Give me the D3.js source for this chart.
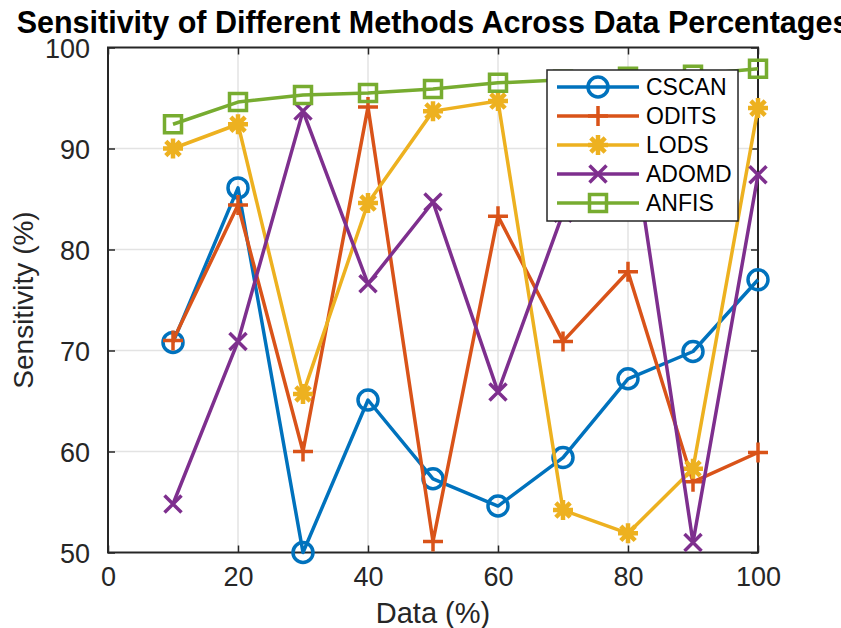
<!DOCTYPE html>
<html>
<head>
<meta charset="utf-8">
<script src="https://cdn.jsdelivr.net/npm/d3@7"></script>
<style>
  body { margin: 0; background: #fff; overflow: hidden; }
  text { font-family: "Liberation Sans", Arial, sans-serif; }
</style>
</head>
<body>
<div id="my_dataviz"></div>
<script>
// data
var dataPct = [10, 20, 30, 40, 50, 60, 70, 80, 90, 100];
var cscan = [70.8, 86.1, 50.0, 65.1, 57.3, 54.6, 59.4, 67.2, 69.9, 77.0];
var odits = [71.0, 84.4, 60.0, 94.1, 51.1, 83.3, 70.9, 77.8, 57.0, 59.9];
var lods  = [90.0, 92.4, 65.7, 84.6, 93.7, 94.7, 54.2, 51.9, 58.3, 94.0];
var adomd = [54.8, 70.9, 93.7, 76.6, 84.7, 65.9, 83.6, 94.0, 51.0, 87.4];
var anfis = [92.4, 94.6, 95.3, 95.5, 95.9, 96.5, 96.8, 97.1, 97.3, 97.9];
var seriesNames = ["CSCAN", "ODITS", "LODS", "ADOMD", "ANFIS"];
var xTicks = [0, 20, 40, 60, 80, 100];
var yTicks = [50, 60, 70, 80, 90, 100];

var seriesValues = [cscan, odits, lods, adomd, anfis];
var colors = ["#0072BD", "#D95319", "#EDB120", "#7E2F8E", "#77AC30"];
var shapes = ["circle", "plus", "asterisk", "x", "square"];

// set the dimensions and margins of the graph
var margin = {top: 47.5, right: 83, bottom: 75.5, left: 108},
    fullW = 841, fullH = 628,
    width = fullW - margin.left - margin.right,
    height = fullH - margin.top - margin.bottom;

var axisColor = "#262626";

var svg = d3.select("#my_dataviz")
  .append("svg")
    .attr("width", fullW)
    .attr("height", fullH)
  .append("g")
    .attr("transform", "translate(" + margin.left + "," + margin.top + ")");

var x = d3.scaleLinear().domain([0, 100]).range([0, width]);
var y = d3.scaleLinear().domain([50, 100]).range([height, 0]);

// grid
svg.append("g")
  .selectAll("line")
  .data(xTicks.slice(1, -1))
  .enter().append("line")
    .attr("x1", function(d) { return x(d); })
    .attr("x2", function(d) { return x(d); })
    .attr("y1", 0).attr("y2", height)
    .attr("stroke", "#e3e3e3").attr("stroke-width", 1.5);
svg.append("g")
  .selectAll("line")
  .data(yTicks.slice(1, -1))
  .enter().append("line")
    .attr("y1", function(d) { return y(d); })
    .attr("y2", function(d) { return y(d); })
    .attr("x1", 0).attr("x2", width)
    .attr("stroke", "#e3e3e3").attr("stroke-width", 1.5);

// axes (ticks point inward, box on)
function styleAxis(g) {
  g.select(".domain").remove();
  g.selectAll(".tick line").attr("stroke", axisColor).attr("stroke-width", 1.5);
  g.selectAll(".tick text")
    .attr("fill", axisColor)
    .style("font-size", "27px")
    .style("font-family", "'Liberation Sans', Arial, sans-serif");
}

svg.append("g")
  .attr("transform", "translate(0," + height + ")")
  .call(d3.axisBottom(x).tickValues(xTicks).tickSize(-7).tickPadding(14))
  .call(styleAxis)
  .selectAll(".tick text").attr("dy", "0.71em");

svg.append("g")
  .call(d3.axisLeft(y).tickValues(yTicks).tickSize(-7).tickPadding(18))
  .call(styleAxis)
  .selectAll(".tick text").attr("dy", "0.36em");

svg.append("g")
  .call(d3.axisTop(x).tickValues(xTicks).tickSize(-7).tickFormat(""))
  .call(styleAxis);

svg.append("g")
  .attr("transform", "translate(" + width + ",0)")
  .call(d3.axisRight(y).tickValues(yTicks).tickSize(-7).tickFormat(""))
  .call(styleAxis);

svg.append("rect")
  .attr("width", width).attr("height", height)
  .attr("fill", "none")
  .attr("stroke", axisColor).attr("stroke-width", 2);

// marker glyphs
function markerPath(shape, r) {
  var p = d3.path();
  if (shape === "circle") {
    p.moveTo(r, 0); p.arc(0, 0, r, 0, 2 * Math.PI);
  } else if (shape === "plus") {
    p.moveTo(-r, 0); p.lineTo(r, 0); p.moveTo(0, -r); p.lineTo(0, r);
  } else if (shape === "x") {
    var k = r * 0.85;
    p.moveTo(-k, -k); p.lineTo(k, k); p.moveTo(-k, k); p.lineTo(k, -k);
  } else if (shape === "asterisk") {
    var a = r * 0.72;
    p.moveTo(-r, 0); p.lineTo(r, 0); p.moveTo(0, -r); p.lineTo(0, r);
    p.moveTo(-a, -a); p.lineTo(a, a); p.moveTo(-a, a); p.lineTo(a, -a);
  } else if (shape === "square") {
    var s = r * 0.85;
    p.rect(-s, -s, 2 * s, 2 * s);
  }
  return p.toString();
}

var line = d3.line()
  .x(function(d) { return x(d[0]); })
  .y(function(d) { return y(d[1]); });

seriesValues.forEach(function(vals, i) {
  var pts = dataPct.map(function(d, j) { return [d, vals[j]]; });
  var g = svg.append("g");
  g.append("path")
    .datum(pts)
    .attr("d", line)
    .attr("fill", "none")
    .attr("stroke", colors[i])
    .attr("stroke-width", 3.5)
    .attr("stroke-linejoin", "round");
  g.selectAll(".mk")
    .data(pts)
    .enter().append("path")
      .attr("class", "mk")
      .attr("transform", function(d) { return "translate(" + x(d[0]) + "," + y(d[1]) + ")"; })
      .attr("d", markerPath(shapes[i], 10))
      .attr("fill", "none")
      .attr("stroke", colors[i])
      .attr("stroke-width", shapes[i] === "asterisk" ? 4.5 : 3.5);
});

// legend
var legX = 547 - margin.left, legY = 70 - margin.top, legW = 191, legH = 151;
var legspacing = 29;
var legend = svg.append("g").attr("transform", "translate(" + legX + "," + legY + ")");
legend.append("rect")
  .attr("width", legW).attr("height", legH)
  .attr("fill", "#fff")
  .attr("stroke", axisColor).attr("stroke-width", 1.5);

var items = legend.selectAll(".legend")
  .data(seriesNames)
  .enter().append("g")
    .attr("class", "legend")
    .attr("transform", function(d, i) { return "translate(0," + (17 + i * legspacing) + ")"; });

items.append("line")
  .attr("x1", 10).attr("x2", 92)
  .attr("stroke", function(d, i) { return colors[i]; })
  .attr("stroke-width", 3.5);
items.append("path")
  .attr("transform", "translate(51,0)")
  .attr("d", function(d, i) { return markerPath(shapes[i], 10); })
  .attr("fill", "none")
  .attr("stroke", function(d, i) { return colors[i]; })
  .attr("stroke-width", function(d, i) { return shapes[i] === "asterisk" ? 4.5 : 3.5; });
items.append("text")
  .attr("x", 99)
  .attr("dy", "0.36em")
  .attr("fill", "#000")
  .style("font-size", "23px")
  .text(function(d) { return d; });

// labels
svg.append("text")
  .attr("x", width / 2)
  .attr("y", height + 70)
  .attr("text-anchor", "middle")
  .attr("fill", axisColor)
  .style("font-size", "29px")
  .text("Data (%)");

svg.append("text")
  .attr("transform", "translate(" + (33 - margin.left) + "," + (height / 2) + ") rotate(-90)")
  .attr("text-anchor", "middle")
  .attr("fill", axisColor)
  .style("font-size", "28px")
  .text("Sensitivity (%)");

svg.append("text")
  .attr("x", width / 2)
  .attr("y", 33 - margin.top)
  .attr("text-anchor", "middle")
  .attr("fill", "#000")
  .style("font-size", "30.5px")
  .style("font-weight", "bold")
  .text("Sensitivity of Different Methods Across Data Percentages");
</script>
</body>
</html>
